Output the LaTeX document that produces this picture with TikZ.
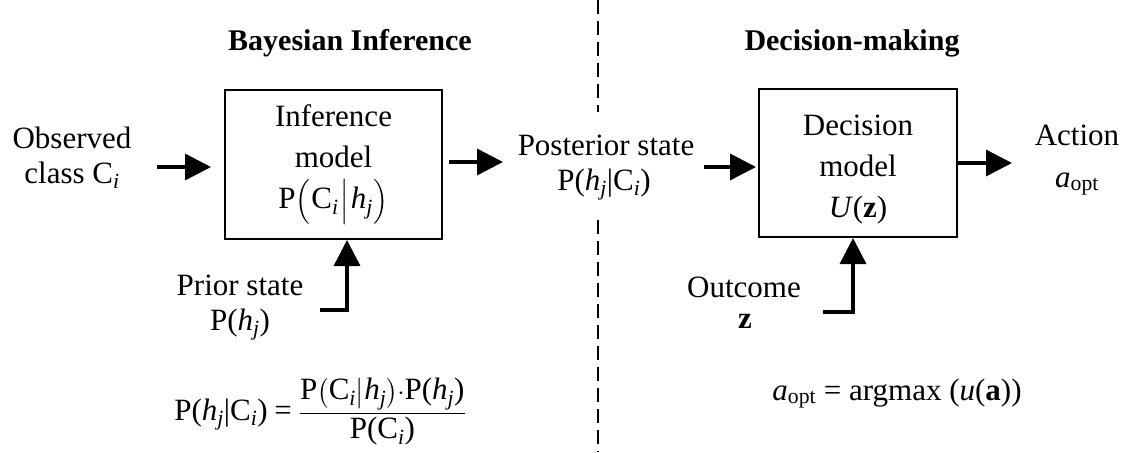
\documentclass[tikz,border=0pt]{standalone}
\usepackage{fontspec}
\setmainfont{Liberation Serif}
\usepackage{amsmath}
\usetikzlibrary{arrows.meta,calc}
\newcommand\hj{\textit{h}\textsubscript{\textit{j}}}
\newcommand\Ci{C\textsubscript{\textit{i}}}
\begin{document}
\begin{tikzpicture}[x=1pt,y=-1pt,
  txt/.style={font=\fontsize{31}{35}\selectfont, inner sep=0pt, anchor=base},
  ttl/.style={font=\fontsize{30}{34}\selectfont\bfseries, inner sep=0pt, anchor=base},
  box/.style={draw, line width=2pt, inner sep=0pt, align=center, font=\fontsize{31}{41}\selectfont},
  arr/.style={line width=3.5pt, -{Triangle[length=26pt,width=26pt]}},
  divider/.style={line width=1.5pt, dash pattern=on 14pt off 7pt}]
\useasboundingbox (0,0) rectangle (1131,452);
% divider
\draw[divider] (598,0) -- (598,112);
\draw[divider] (598,220) -- (598,452);
% titles
\node[ttl] (t1) at (350,50) {Bayesian Inference};
\node[ttl] (t2) at (852,50) {Decision-making};
% boxes
\node[box, minimum width=217, minimum height=149] (inf) at (333.5,164.5)
  {Inference\\model\\P$\Bigl($\kern1pt\Ci\kern2pt$\Big|$\kern2pt\hj\kern1pt$\Bigr)$};
\node[box, minimum width=198, minimum height=148] (dec) at (858,163)
  {\rule{0pt}{33pt}Decision\\model\\\textit{U}(\textbf{z})};
% labels
\node[txt] (obs1) at (72,148) {Observed};
\node[txt] (obs2) at (72,183) {class \Ci};
\node[txt] (post1) at (606,155) {Posterior state};
\node[txt] (post2) at (604,190) {P(\hj|\Ci)};
\node[txt] (act1) at (1077,145) {Action};
\node[txt] (act2) at (1077,187) {\textit{a}\textsubscript{opt}};
\node[txt] (pri1) at (240,295) {Prior state};
\node[txt] (pri2) at (240,330) {P(\hj)};
\node[txt] (out1) at (744,297) {Outcome};
\node[txt] (out2) at (745,328) {\textbf{z}};
\node[txt] (bayes) at (320,420)
  {$\displaystyle \text{P(\hj|\Ci)} \mathrel{\text{=}} \frac{\text{P}\bigl(\text{\Ci}\big|\text{\hj}\bigr){\cdot}\text{P(\hj)}}{\text{P(\Ci)}}$};
\node[txt] (argm) at (897,400) {\textit{a}\textsubscript{opt} = argmax (\textit{u}(\textbf{a}))};
% connectors
\draw[arr] ($(inf.west)+(-67,2.5)$) -- ($(inf.west)+(-13,2.5)$);
\draw[arr] ($(inf.east)+(6,-2.5)$) -- ($(inf.east)+(60,-2.5)$);
\draw[arr] ($(dec.west)+(-54,4)$) -- ($(dec.west)+(-2,4)$);
\draw[arr] (dec.east) -- ($(dec.east)+(54,0)$);
\coordinate (pc) at (320,310);
\draw[arr] (pc) -| ($(inf.south)+(13.5,0)$);
\coordinate (oc) at (823,312);
\draw[arr] (oc) -| ($(dec.south)+(-5,0)$);
\end{tikzpicture}
\end{document}
